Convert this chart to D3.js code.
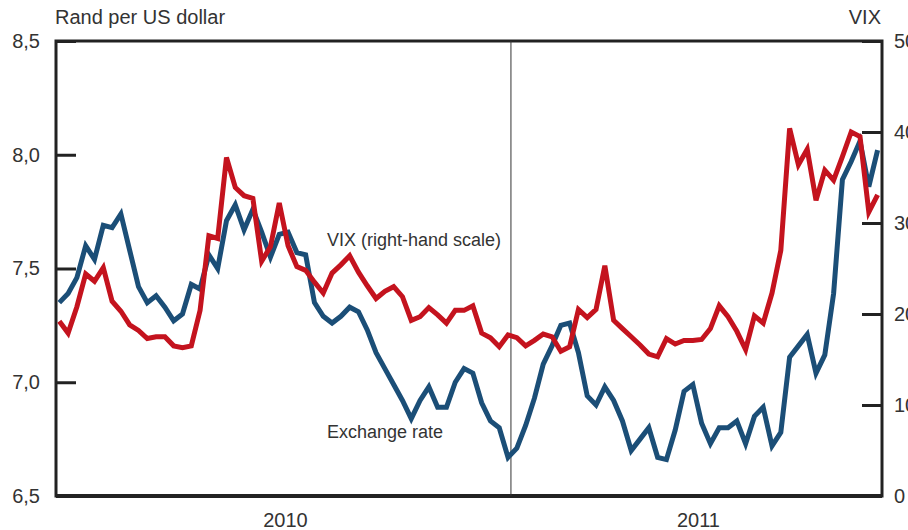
<!DOCTYPE html>
<html>
<head>
<meta charset="utf-8">
<script src="https://cdn.jsdelivr.net/npm/d3@7"></script>
<style>
  body { margin: 0; background: #fff; }
  svg text { font-family: "Liberation Sans", Arial, sans-serif; fill: #333; }
</style>
</head>
<body>
<svg id="chart" width="908" height="530"></svg>
<script>
// weekly observations, Jan 2010 - Oct 2011
var rand = [
  7.35, 7.39, 7.46, 7.60, 7.54, 7.69, 7.68, 7.74, 7.58, 7.42,
  7.35, 7.38, 7.33, 7.27, 7.30, 7.43, 7.41, 7.56, 7.50, 7.71,
  7.78, 7.67, 7.76, 7.66, 7.55, 7.65, 7.66, 7.57, 7.56, 7.35,
  7.29, 7.26, 7.29, 7.33, 7.31, 7.23, 7.13, 7.06, 6.99, 6.92,
  6.84, 6.92, 6.98, 6.89, 6.89, 7.00, 7.06, 7.04, 6.91, 6.83,
  6.80, 6.67, 6.71, 6.81, 6.93, 7.08, 7.16, 7.25, 7.26, 7.13,
  6.94, 6.90, 6.98, 6.92, 6.83, 6.70, 6.75, 6.80, 6.67, 6.66,
  6.79, 6.96, 6.99, 6.82, 6.73, 6.80, 6.80, 6.83, 6.73, 6.85,
  6.89, 6.72, 6.78, 7.11, 7.16, 7.21, 7.04, 7.12, 7.39, 7.89,
  7.97, 8.06, 7.86, 8.02
];
var vix = [
  19.2, 17.9, 20.8, 24.4, 23.6, 25.1, 21.4, 20.3, 18.8, 18.2,
  17.3, 17.5, 17.5, 16.5, 16.3, 16.5, 20.4, 28.6, 28.3, 37.2,
  33.9, 33.0, 32.7, 25.8, 27.4, 32.2, 27.5, 25.2, 24.8, 23.5,
  22.3, 24.5, 25.4, 26.4, 24.6, 23.1, 21.7, 22.5, 23.0, 21.9,
  19.3, 19.7, 20.7, 19.9, 19.0, 20.4, 20.4, 20.9, 17.9, 17.4,
  16.4, 17.7, 17.4, 16.5, 17.1, 17.8, 17.5, 15.9, 16.4, 20.5,
  19.6, 20.5, 25.3, 19.3, 18.4, 17.5, 16.6, 15.6, 15.3, 17.3,
  16.7, 17.1, 17.1, 17.2, 18.4, 20.9, 19.7, 18.1, 16.1, 19.8,
  19.0, 22.3, 27.0, 40.4, 36.4, 38.1, 32.5, 35.8, 34.7, 37.3,
  40.0, 39.5, 31.2, 33.1
];
var leftTicks = [6.5, 7.0, 7.5, 8.0, 8.5];
var rightTicks = [0, 10, 20, 30, 40, 50];
var years = ["2010", "2011"];
var yearStart = [-0.375, 51.33];   // week index where each year begins
var weekEnd = 93.5;

(function() {
  var svg = d3.select("#chart");
  var pl = 56, pr = 882, pt = 41, pb = 496;

  var x = d3.scaleLinear().domain([yearStart[0], weekEnd]).range([pl, pr]);
  var yL = d3.scaleLinear().domain([6.5, 8.5]).range([pb, pt]);
  var yR = d3.scaleLinear().domain([0, 50]).range([pb, pt]);

  var fmt = function(d) { return d3.format(".1f")(d).replace(".", ","); };

  // left axis
  var gL = svg.append("g").attr("transform", "translate(" + pl + ",0)")
    .call(d3.axisLeft(yL).tickValues(leftTicks).tickSize(-20).tickPadding(16).tickFormat(fmt));
  gL.select(".domain").remove();
  gL.selectAll(".tick line").attr("stroke", "#222").attr("stroke-width", 3);
  gL.selectAll(".tick text").style("font-size", "20px").attr("fill", "#333");

  // right axis (labels run off the page edge, as in the source)
  var gR = svg.append("g").attr("transform", "translate(" + pr + ",0)")
    .call(d3.axisRight(yR).tickValues(rightTicks).tickSize(-20).tickPadding(12));
  gR.select(".domain").remove();
  gR.selectAll(".tick line").attr("stroke", "#222").attr("stroke-width", 3);
  gR.selectAll(".tick text").style("font-size", "20px").attr("fill", "#333");

  // frame
  svg.append("rect").attr("x", pl).attr("y", pt)
    .attr("width", pr - pl).attr("height", pb - pt)
    .attr("fill", "none").attr("stroke", "#222").attr("stroke-width", 3);
  svg.append("line").attr("x1", pl).attr("x2", pr)
    .attr("y1", pb).attr("y2", pb)
    .attr("stroke", "#222").attr("stroke-width", 4);

  // year divider
  svg.append("line").attr("x1", x(yearStart[1])).attr("x2", x(yearStart[1]))
    .attr("y1", pt).attr("y2", pb)
    .attr("stroke", "#333").attr("stroke-width", 1);

  // year labels
  years.forEach(function(yr, i) {
    var a = yearStart[i], b = i + 1 < yearStart.length ? yearStart[i + 1] : weekEnd;
    svg.append("text").attr("x", (x(a) + x(b)) / 2 + 2).attr("y", 527)
      .attr("text-anchor", "middle").style("font-size", "20px").text(yr);
  });

  // series
  var lineRand = d3.line().x(function(d, i) { return x(i); }).y(function(d) { return yL(d); });
  var lineVix = d3.line().x(function(d, i) { return x(i); }).y(function(d) { return yR(d); });

  svg.append("path").datum(rand).attr("d", lineRand)
    .attr("fill", "none").attr("stroke", "#1b4e77").attr("stroke-width", 5);
  svg.append("path").datum(vix).attr("d", lineVix)
    .attr("fill", "none").attr("stroke", "#c4131e").attr("stroke-width", 5);

  // titles and annotations
  svg.append("text").attr("x", 55).attr("y", 24).style("font-size", "20px").text("Rand per US dollar");
  svg.append("text").attr("x", 881).attr("y", 24).attr("text-anchor", "end").style("font-size", "20px").text("VIX");
  svg.append("text").attr("x", 327).attr("y", 246).style("font-size", "18px").text("VIX (right-hand scale)");
  svg.append("text").attr("x", 327).attr("y", 438).style("font-size", "18px").text("Exchange rate");
})();
</script>
</body>
</html>
